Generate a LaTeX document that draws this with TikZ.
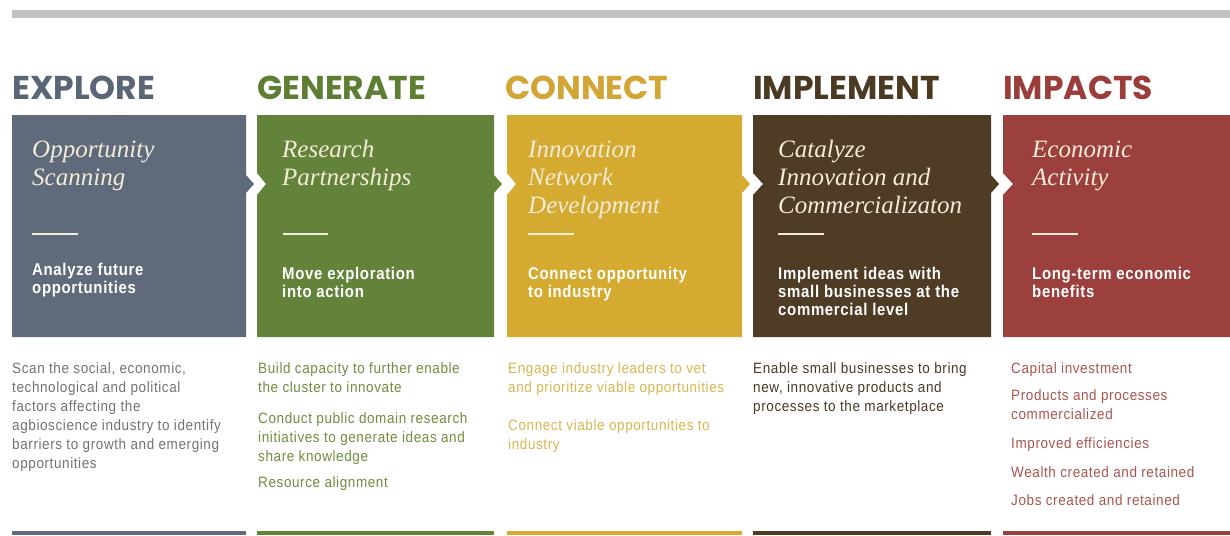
\documentclass[tikz,border=0pt]{standalone}
\usepackage{fontspec}
\newfontfamily\hdrfont{Poppins}
\newfontfamily\ttlfont{Liberation Serif}
\newfontfamily\subfont{Liberation Sans}[FakeStretch=0.88,LetterSpace=4]
\newfontfamily\bodyfont{Liberation Sans}[FakeStretch=0.9,LetterSpace=4]
\definecolor{topbar}{HTML}{C2C2C2}
\definecolor{boxA}{HTML}{5F6B7B}
\definecolor{boxB}{HTML}{63833A}
\definecolor{boxC}{HTML}{D4AA30}
\definecolor{boxD}{HTML}{4F3C25}
\definecolor{boxE}{HTML}{9C403E}
\definecolor{hdA}{HTML}{5A6676}
\definecolor{hdB}{HTML}{5E7F33}
\definecolor{hdC}{HTML}{D2A535}
\definecolor{hdD}{HTML}{4B3922}
\definecolor{hdE}{HTML}{9A3D3B}
\definecolor{txA}{HTML}{737373}
\definecolor{txB}{HTML}{718D3E}
\definecolor{txC}{HTML}{D9B650}
\definecolor{txD}{HTML}{4A3A28}
\definecolor{txE}{HTML}{A9564E}
\definecolor{cream}{HTML}{F3ECD9}
\tikzset{
  hdr/.style={anchor=base west, inner sep=0pt, font=\hdrfont\bfseries\fontsize{33}{33}\selectfont},
  ttl/.style={anchor=base west, inner sep=0pt, text=cream, font=\ttlfont\itshape\fontsize{25}{28}\selectfont},
  sub/.style={anchor=base west, inner sep=0pt, text=white, font=\subfont\bfseries\fontsize{17}{18}\selectfont},
  body/.style={anchor=base west, inner sep=0pt, font=\bodyfont\fontsize{15}{19}\selectfont},
  rulel/.style={draw=cream, line width=2pt},
}
\begin{document}
\begin{tikzpicture}[x=1pt,y=-1pt]
\useasboundingbox (0,0) rectangle (1230,535);
\fill[white] (0,0) rectangle (1230,535);
\fill[topbar] (12,10) rectangle (1230,18);
% boxes
\fill[boxA] (12,115) -- (246,115) -- (246,175) -- (254,184) -- (246,193) -- (246,337) -- (12,337) -- cycle;
\fill[boxB] (257,115) -- (494,115) -- (494,175) -- (502,184) -- (494,193) -- (494,337) -- (257,337) -- (257,195) -- (266,184) -- (257,173) -- cycle;
\fill[boxC] (507,115) -- (742,115) -- (742,175) -- (750,184) -- (742,193) -- (742,337) -- (507,337) -- (507,195) -- (516,184) -- (507,173) -- cycle;
\fill[boxD] (753,115) -- (991,115) -- (991,175) -- (999,184) -- (991,193) -- (991,337) -- (753,337) -- (753,195) -- (763,184) -- (753,173) -- cycle;
\fill[boxE] (1003,115) -- (1230,115) -- (1230,337) -- (1003,337) -- (1003,195) -- (1013,184) -- (1003,173) -- cycle;
% bottom bars
\fill[boxA] (12,531) rectangle (246,535);
\fill[boxB] (257,531) rectangle (494,535);
\fill[boxC] (507,531) rectangle (742,535);
\fill[boxD] (753,531) rectangle (991,535);
\fill[boxE] (1003,531) rectangle (1230,535);
% headers
\node[hdr, text=hdA] (hA) at (12,99) {EXPLORE};
\node[hdr, text=hdB] (hB) at (257,99) {GENERATE};
\node[hdr, text=hdC] (hC) at (505,99) {CONNECT};
\node[hdr, text=hdD] (hD) at (753,99) {IMPLEMENT};
\node[hdr, text=hdE] (hE) at (1003,99) {IMPACTS};
% titles
\node[ttl] (tA1) at (32,157) {Opportunity};
\node[ttl] (tA2) at (32,185) {Scanning};
\node[ttl] (tB1) at (282,157) {Research};
\node[ttl] (tB2) at (282,185) {Partnerships};
\node[ttl] (tC1) at (528,157) {Innovation};
\node[ttl] (tC2) at (528,185) {Network};
\node[ttl] (tC3) at (528,213) {Development};
\node[ttl] (tD1) at (778,157) {Catalyze};
\node[ttl] (tD2) at (778,185) {Innovation and};
\node[ttl] (tD3) at (778,213) {Commercializaton};
\node[ttl] (tE1) at (1032,157) {Economic};
\node[ttl] (tE2) at (1032,185) {Activity};
% short rules
\draw[rulel] (32,234) -- (78,234);
\draw[rulel] (283,234) -- (328,234);
\draw[rulel] (528,234) -- (574,234);
\draw[rulel] (778,234) -- (824,234);
\draw[rulel] (1032,234) -- (1078,234);
% subtitles
\node[sub] (sA1) at (32,275) {Analyze future};
\node[sub] (sA2) at (32,293) {opportunities};
\node[sub] (sB1) at (282,279) {Move exploration};
\node[sub] (sB2) at (282,297) {into action};
\node[sub] (sC1) at (528,279) {Connect opportunity};
\node[sub] (sC2) at (528,297) {to industry};
\node[sub] (sD1) at (778,279) {Implement ideas with};
\node[sub] (sD2) at (778,297) {small businesses at the};
\node[sub] (sD3) at (778,315) {commercial level};
\node[sub] (sE1) at (1032,279) {Long-term economic};
\node[sub] (sE2) at (1032,297) {benefits};
% body texts
\node[body, text=txA] (bA1) at (12,373) {Scan the social, economic,};
\node[body, text=txA] (bA2) at (12,392) {technological and political};
\node[body, text=txA] (bA3) at (12,411) {factors affecting the};
\node[body, text=txA] (bA4) at (12,430) {agbioscience industry to identify};
\node[body, text=txA] (bA5) at (12,449) {barriers to growth and emerging};
\node[body, text=txA] (bA6) at (12,468) {opportunities};
\node[body, text=txB] (bB1) at (258,373) {Build capacity to further enable};
\node[body, text=txB] (bB2) at (258,392) {the cluster to innovate};
\node[body, text=txB] (bB3) at (258,423) {Conduct public domain research};
\node[body, text=txB] (bB4) at (258,442) {initiatives to generate ideas and};
\node[body, text=txB] (bB5) at (258,461) {share knowledge};
\node[body, text=txB] (bB6) at (258,487) {Resource alignment};
\node[body, text=txC] (bC1) at (508,373) {Engage industry leaders to vet};
\node[body, text=txC] (bC2) at (508,392) {and prioritize viable opportunities};
\node[body, text=txC] (bC3) at (508,430) {Connect viable opportunities to};
\node[body, text=txC] (bC4) at (508,449) {industry};
\node[body, text=txD] (bD1) at (753,373) {Enable small businesses to bring};
\node[body, text=txD] (bD2) at (753,392) {new, innovative products and};
\node[body, text=txD] (bD3) at (753,411) {processes to the marketplace};
\node[body, text=txE] (bE1) at (1011,373) {Capital investment};
\node[body, text=txE] (bE2) at (1011,400) {Products and processes};
\node[body, text=txE] (bE3) at (1011,419) {commercialized};
\node[body, text=txE] (bE4) at (1011,448) {Improved efficiencies};
\node[body, text=txE] (bE5) at (1011,477) {Wealth created and retained};
\node[body, text=txE] (bE6) at (1011,505) {Jobs created and retained};
\end{tikzpicture}
\end{document}
